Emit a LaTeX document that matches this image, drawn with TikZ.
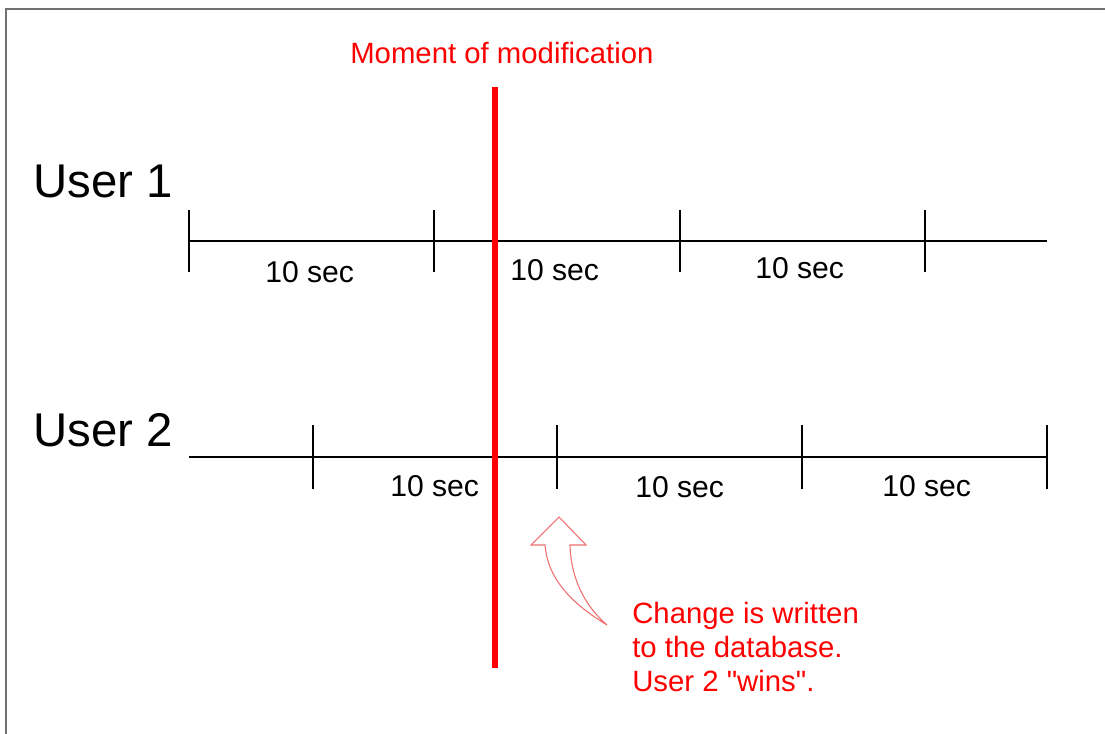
\documentclass[tikz,border=0pt]{standalone}
\usepackage{fontspec}
\setmainfont{Liberation Sans}
\definecolor{framegray}{HTML}{707070}
\definecolor{arrowred}{HTML}{F07070}
\begin{document}
\begin{tikzpicture}[x=0.75pt,y=-0.75pt,
  axis/.style={line width=2.1pt,black},
  tick/.style={line width=2.2pt,black},
  userlabel/.style={anchor=base west,inner sep=0pt,font=\fontsize{35.5}{42}\selectfont},
  seclabel/.style={anchor=base west,inner sep=0pt,font=\fontsize{22.6}{27}\selectfont},
  redtext/.style={anchor=base west,inner sep=0pt,text=red,font=\fontsize{22}{25}\selectfont},
]
\useasboundingbox (0,0) rectangle (1105,734);
\fill[white] (0,0) rectangle (1105,734);

% frame edges
\draw[framegray,line width=1.1pt] (6,734) -- (6,9) -- (1105,9);

% User 1 timeline
\node[userlabel] (u1) at (33,198) {User 1};
\coordinate (a0) at (189,241);
\coordinate (a4) at (1047,241);
\draw[axis] (a0) -- (a4);
\foreach \x/\n in {189/1,434/2,680/3,925/4}
  \draw[tick] (\x,210) coordinate (at\n) -- (\x,272);
\node[seclabel] (s11) at (265,282) {10 sec};
\node[seclabel] (s12) at (510,280) {10 sec};
\node[seclabel] (s13) at (755,278) {10 sec};

% User 2 timeline
\node[userlabel] (u2) at (33,446) {User 2};
\coordinate (b0) at (189,457);
\coordinate (b4) at (1047,457);
\draw[axis] (b0) -- (b4);
\foreach \x/\n in {313/1,557/2,802/3,1047/4}
  \draw[tick] (\x,425) coordinate (bt\n) -- (\x,489);
\node[seclabel] (s21) at (390,496) {10 sec};
\node[seclabel] (s22) at (635,497) {10 sec};
\node[seclabel] (s23) at (882,496) {10 sec};

% moment of modification
\node[redtext] (mom) at (350,64) {Moment of modification};
\coordinate (mtop) at (495,87);
\coordinate (mbot) at (495,668);
\draw[red,line width=5.2pt] (mtop) -- (mbot);

% hollow curved arrow pointing at the write
\draw[arrowred,line width=0.8pt,line join=miter]
  (559,517) -- (586,545) -- (570,545)
  .. controls (571,578) and (584,605) .. (607,625)
  .. controls (576,606) and (548,582) .. (545,545)
  -- (531,545) -- cycle;

% note about the write
\node[redtext] (note1) at (632,623) {Change is written};
\node[redtext] (note2) at (632,657) {to the database.};
\node[redtext] (note3) at (632,691) {User 2 \textquotedbl wins\textquotedbl.};
\end{tikzpicture}
\end{document}
